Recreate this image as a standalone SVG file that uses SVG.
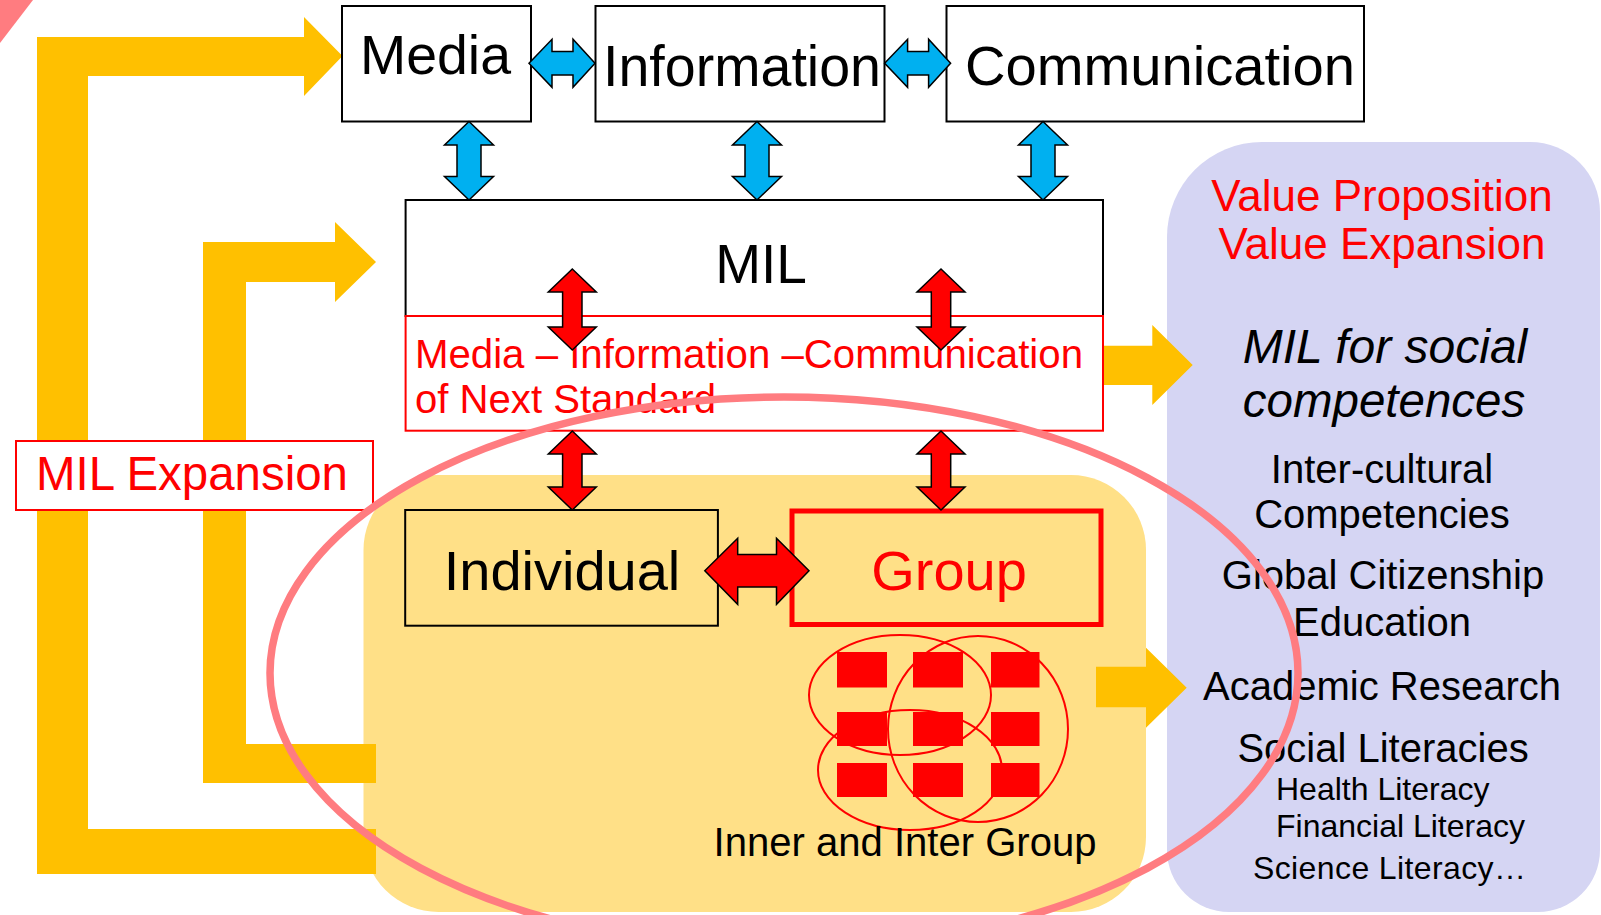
<svg xmlns="http://www.w3.org/2000/svg" width="1601" height="915" viewBox="0 0 1601 915">
<style>
text{font-family:"Liberation Sans",Arial,sans-serif}
.box{fill:#fff;stroke:#000;stroke-width:2}
.blk{fill:#000}
.red{fill:#FF0000}
.yel{fill:#FFC000}
.blue{fill:#00B0F0;stroke:#000;stroke-width:1.5;stroke-linejoin:miter}
.redar{fill:#FF0000;stroke:#000;stroke-width:1.5;stroke-linejoin:miter}
.sq{fill:#FF0000}
.thin{fill:none;stroke:#FF0000;stroke-width:2}
.mid{text-anchor:middle}
</style>
<defs>
<path id="bv" d="M0,0 L24.5,23.5 L12,23.5 L12,55 L24.5,55 L0,78.5 L-24.5,55 L-12,55 L-12,23.5 L-24.5,23.5 Z"/>
<path id="bh" d="M0,0 L23,-24 L23,-11.7 L44,-11.7 L44,-24 L66,0 L44,24 L44,11.7 L23,11.7 L23,24 Z"/>
<path id="rv1" d="M0,0 L24,23 L9.7,23 L9.7,58 L24,58 L0,81 L-24,58 L-9.7,58 L-9.7,23 L-24,23 Z"/>
<path id="rv2" d="M0,0 L24,23 L9.7,23 L9.7,56 L24,56 L0,79 L-24,56 L-9.7,56 L-9.7,23 L-24,23 Z"/>
</defs>

<polygon points="0,0 33,0 0,43" fill="#FF7C80"/>

<g id="yellow-area">
<rect x="363.5" y="475" width="782.5" height="437" rx="75" ry="75" fill="#FFE087"/>
</g>

<g id="value-area">
<path d="M1262,142 L1530,142 A70,70 0 0 1 1600,212 L1600,850 A62,62 0 0 1 1538,912 L1229,912 A62,62 0 0 1 1167,850 L1167,237 A95,95 0 0 1 1262,142 Z" fill="#D5D5F3"/>
</g>

<g id="connectors">
<path class="yel" d="M37,37 L304,37 L304,17 L342.5,56 L304,96 L304,76 L88,76 L88,829 L376,829 L376,874 L37,874 Z"/>
<path class="yel" d="M203,242 L335,242 L335,222 L376,262 L335,302 L335,282 L246,282 L246,744 L376,744 L376,783 L203,783 Z"/>
<path class="yel" d="M1102,345.7 L1152.3,345.7 L1152.3,325 L1192.7,365 L1152.3,405 L1152.3,385 L1102,385 Z"/>
<path class="yel" d="M1096,666.7 L1146,666.7 L1146,647.7 L1186.7,687.7 L1146,727.7 L1146,707.3 L1096,707.3 Z"/>
</g>

<g id="mil-expansion">
<rect x="16" y="441" width="357" height="69" fill="#fff" stroke="#FF0000" stroke-width="2"/>
<text x="36" y="490" font-size="47.5" class="red" textLength="312" lengthAdjust="spacingAndGlyphs">MIL Expansion</text>
</g>

<g id="media">
<rect class="box" x="342" y="6" width="189" height="115.5"/>
<text x="360" y="74" font-size="56" class="blk" textLength="151" lengthAdjust="spacingAndGlyphs">Media</text>
</g>
<g id="information">
<rect class="box" x="595.5" y="6" width="289" height="115.5"/>
<text x="603" y="86" font-size="57" class="blk" textLength="278" lengthAdjust="spacingAndGlyphs">Information</text>
</g>
<g id="communication">
<rect class="box" x="946.5" y="6" width="417.5" height="115.5"/>
<text x="965" y="85" font-size="56" class="blk" textLength="390" lengthAdjust="spacingAndGlyphs">Communication</text>
</g>

<g id="mil">
<rect class="box" x="405.6" y="200" width="697.4" height="116"/>
<rect x="405.6" y="316" width="697.4" height="114.7" fill="#fff" stroke="#FF0000" stroke-width="2"/>
<text x="761" y="283.3" font-size="55" class="mid blk">MIL</text>
<text x="415" y="368.3" font-size="40" class="red" textLength="668" lengthAdjust="spacingAndGlyphs">Media – Information –Communication</text>
<text x="415" y="413.3" font-size="40" class="red" textLength="301" lengthAdjust="spacingAndGlyphs">of Next Standard</text>
</g>

<g id="individual">
<rect x="405.2" y="510" width="312.7" height="115.7" fill="none" stroke="#000" stroke-width="2"/>
<text x="562" y="590" font-size="56" class="mid blk">Individual</text>
</g>
<g id="group">
<rect x="792" y="511" width="309" height="113.5" fill="none" stroke="#FF0000" stroke-width="5"/>
<text x="949" y="590" font-size="56" class="mid red">Group</text>
</g>

<g id="inner-inter-group">
<rect class="sq" x="837" y="652" width="50" height="35.5"/>
<rect class="sq" x="913" y="652" width="50" height="35.5"/>
<rect class="sq" x="991" y="652" width="48.5" height="35.5"/>
<rect class="sq" x="837" y="712" width="50" height="34"/>
<rect class="sq" x="913" y="712" width="50" height="34"/>
<rect class="sq" x="991" y="712" width="48.5" height="34"/>
<rect class="sq" x="837" y="763" width="50" height="34"/>
<rect class="sq" x="913" y="763" width="50" height="34"/>
<rect class="sq" x="991" y="763" width="48.5" height="34"/>
<ellipse class="thin" cx="900" cy="695" rx="91" ry="60"/>
<ellipse class="thin" cx="978" cy="729" rx="90" ry="93"/>
<ellipse class="thin" cx="910" cy="770" rx="92" ry="60"/>
<text x="713.5" y="856" font-size="40" class="blk" textLength="383" lengthAdjust="spacingAndGlyphs">Inner and Inter Group</text>
</g>

<g id="arrows">
<use href="#bh" x="529" y="63.3" class="blue"/>
<use href="#bh" x="884.6" y="63.3" class="blue"/>
<use href="#bv" x="469" y="121.5" class="blue"/>
<use href="#bv" x="757" y="121.5" class="blue"/>
<use href="#bv" x="1043" y="121.5" class="blue"/>
<use href="#rv1" x="572.3" y="269" class="redar"/>
<use href="#rv1" x="941" y="269" class="redar"/>
<use href="#rv2" x="572.3" y="431" class="redar"/>
<use href="#rv2" x="941" y="431" class="redar"/>
<path class="redar" d="M704.8,570.7 L737.7,538.3 L737.7,554.4 L776.5,554.4 L776.5,538.3 L809,570.7 L776.5,604.3 L776.5,587 L737.7,587 L737.7,604.3 Z"/>
</g>

<g id="value-text">
<text x="1382" y="211" font-size="44" class="mid red">Value Proposition</text>
<text x="1382" y="259.3" font-size="44" class="mid red">Value Expansion</text>
<text x="1385" y="362.7" font-size="48" font-style="italic" class="mid blk">MIL for social</text>
<text x="1384" y="416.7" font-size="47.5" font-style="italic" class="mid blk">competences</text>
<text x="1382" y="482.7" font-size="40" class="mid blk">Inter-cultural</text>
<text x="1382" y="528" font-size="40" class="mid blk">Competencies</text>
<text x="1383" y="589.3" font-size="40" class="mid blk">Global Citizenship</text>
<text x="1382" y="635.7" font-size="40" class="mid blk">Education</text>
<text x="1382" y="700" font-size="40" class="mid blk">Academic Research</text>
<text x="1383" y="761.7" font-size="40" class="mid blk">Social Literacies</text>
<text x="1276" y="800" font-size="32" class="blk">Health Literacy</text>
<text x="1276" y="836.7" font-size="32" class="blk">Financial Literacy</text>
<text x="1253" y="879.3" font-size="32" class="blk" textLength="273" lengthAdjust="spacing">Science Literacy…</text>
</g>

<ellipse cx="784" cy="673" rx="514" ry="276" fill="none" stroke="#FF7C80" stroke-width="7.5"/>
</svg>
